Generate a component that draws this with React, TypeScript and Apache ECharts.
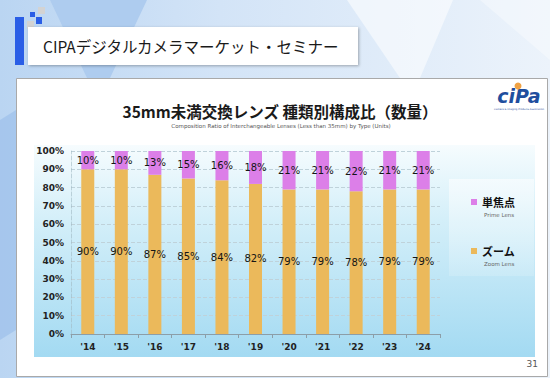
import React, { useEffect, useRef } from "react";
import * as echarts from "echarts";

const years = ["'14", "'15", "'16", "'17", "'18", "'19", "'20", "'21", "'22", "'23", "'24"];
const zoomShare = [90, 90, 87, 85, 84, 82, 79, 79, 78, 79, 79];
const primeShare = [10, 10, 13, 15, 16, 18, 21, 21, 22, 21, 21];
const seriesNames = ["ズーム", "単焦点"];
const seriesSubNames = ["Zoom Lens", "Prime Lens"];
const headerText = "CIPAデジタルカメラマーケット・セミナー";
const titleText = "35mm未満交換レンズ 種類別構成比（数量）";
const subTitleText = "Composition Ratio of Interchangeable Lenses (Less than 35mm) by Type (Units)";
const pageNumber = "31";

const ZOOM_COLOR = "#EBB95B";
const PRIME_COLOR = "#DC7FE8";
const LABEL_FONT = "'DejaVu Sans', Verdana, sans-serif";
const JP_FONT = "'Noto Sans CJK JP', 'Noto Sans', sans-serif";

export default function App() {
  const ref = useRef<HTMLDivElement>(null);
  useEffect(() => {
    if (!ref.current) return;
    const chart = echarts.init(ref.current, undefined, { renderer: "svg" });
    const barLabel = {
      show: true,
      position: "inside" as const,
      formatter: "{c}%",
      fontFamily: LABEL_FONT,
      fontSize: 10,
      color: "#151515",
    };
    chart.setOption({
      animation: false,
      backgroundColor: "#ffffff",
      graphic: [
        // page background
        {
          type: "rect", z: -20, silent: true,
          shape: { x: 0, y: 0, width: 550, height: 378 },
          style: {
            fill: new echarts.graphic.LinearGradient(0, 0, 1, 0, [
              { offset: 0, color: "#BAD5F2" },
              { offset: 0.4, color: "#D3E4F7" },
              { offset: 1, color: "#ECF3FB" },
            ]),
          },
        },
        {
          type: "polygon", z: -19, silent: true,
          shape: { points: [[50, 0], [147, 0], [110, 78], [87, 78]] },
          style: { fill: "#AECCEF" },
        },
        {
          type: "polygon", z: -19, silent: true,
          shape: { points: [[347, 0], [453, 0], [420, 78], [400, 78]] },
          style: { fill: "rgba(255,255,255,0.55)" },
        },
        {
          type: "polygon", z: -19, silent: true,
          shape: { points: [[480, 0], [550, 0], [550, 60]] },
          style: { fill: "rgba(255,255,255,0.35)" },
        },
        {
          type: "polygon", z: -19, silent: true,
          shape: { points: [[0, 120], [16, 110], [16, 330], [0, 340]] },
          style: { fill: "rgba(120,165,225,0.3)" },
        },
        // content box
        {
          type: "rect", z: -18, silent: true,
          shape: { x: 16.5, y: 78.5, width: 531, height: 298 },
          style: { fill: "#ffffff", stroke: "#A9A9A9", lineWidth: 1 },
        },
        // header decorations
        { type: "rect", z: -17, silent: true, shape: { x: 15, y: 17, width: 9, height: 48 }, style: { fill: "#2A5EE6" } },
        { type: "rect", z: -17, silent: true, shape: { x: 30, y: 12, width: 5, height: 5 }, style: { fill: "#2A5EE6" } },
        { type: "rect", z: -17, silent: true, shape: { x: 38, y: 7, width: 7, height: 7 }, style: { fill: "#D3D3D3" } },
        { type: "rect", z: -17, silent: true, shape: { x: 36, y: 17, width: 6, height: 7 }, style: { fill: "#2A5EE6" } },
        { type: "rect", z: -17, silent: true, shape: { x: 27, y: 21, width: 7, height: 8 }, style: { fill: "#D3D3D3" } },
        {
          type: "rect", z: -16, silent: true,
          shape: { x: 28, y: 27, width: 330, height: 38 },
          style: { fill: "#ffffff", shadowBlur: 3, shadowColor: "rgba(0,0,0,0.3)", shadowOffsetX: 1, shadowOffsetY: 1 },
        },
        {
          type: "text", z: -15, silent: true, x: 43, y: 46,
          style: { text: headerText, fontFamily: JP_FONT, fontSize: 15.5, fill: "#1a1a1a", verticalAlign: "middle", align: "left" },
        },
        // plot panel
        {
          type: "rect", z: -14, silent: true,
          shape: { x: 34, y: 145, width: 501, height: 212 },
          style: {
            fill: new echarts.graphic.LinearGradient(0, 0, 0, 1, [
              { offset: 0, color: "#F6FCFE" },
              { offset: 0.35, color: "#D4EFF9" },
              { offset: 1, color: "#A3DAF2" },
            ]),
          },
        },
        // legend panel
        {
          type: "rect", z: -13, silent: true,
          shape: { x: 449, y: 179, width: 85, height: 97 },
          style: {
            fill: new echarts.graphic.LinearGradient(0, 0, 0, 1, [
              { offset: 0, color: "rgba(255,255,255,0.55)" },
              { offset: 1, color: "rgba(255,255,255,0.15)" },
            ]),
          },
        },
        {
          type: "text", silent: true, x: 484, y: 215,
          style: { text: seriesSubNames[1], fontFamily: LABEL_FONT, fontSize: 5.5, fill: "#666", verticalAlign: "middle" },
        },
        {
          type: "text", silent: true, x: 484, y: 264,
          style: { text: seriesSubNames[0], fontFamily: LABEL_FONT, fontSize: 5.5, fill: "#666", verticalAlign: "middle" },
        },
        // titles
        {
          type: "text", silent: true, x: 280, y: 111,
          style: { text: titleText, fontFamily: JP_FONT, fontSize: 15.5, fontWeight: "bold", fill: "#1a1a1a", align: "center", verticalAlign: "middle" },
        },
        {
          type: "text", silent: true, x: 281, y: 126,
          style: { text: subTitleText, fontFamily: LABEL_FONT, fontSize: 5.5, fill: "#555", align: "center", verticalAlign: "middle" },
        },
        // logo
        {
          type: "text", silent: true, x: 519, y: 96,
          style: { text: "ciPa", fontFamily: "'DejaVu Sans', sans-serif", fontSize: 19, fontStyle: "italic", fontWeight: "bold", fill: "#1F4E9E", align: "center", verticalAlign: "middle" },
        },
        { type: "circle", silent: true, shape: { cx: 518, cy: 86, r: 3.5 }, style: { fill: "#F0A244" } },
        {
          type: "text", silent: true, x: 519, y: 109,
          style: { text: "Camera & Imaging Products Association", fontFamily: LABEL_FONT, fontSize: 2.5, fill: "#1F4E9E", align: "center", verticalAlign: "middle" },
        },
        // page number
        {
          type: "text", silent: true, x: 538, y: 364,
          style: { text: pageNumber, fontFamily: LABEL_FONT, fontSize: 9, fill: "#555", align: "right", verticalAlign: "middle" },
        },
      ],
      legend: {
        orient: "vertical",
        left: 471,
        top: 195,
        padding: 0,
        itemWidth: 6,
        itemHeight: 6,
        itemGap: 35,
        icon: "rect",
        selectedMode: false,
        data: [seriesNames[1], seriesNames[0]],
        textStyle: { fontFamily: JP_FONT, fontSize: 11, fontWeight: "bold", color: "#111", lineHeight: 14 },
      },
      grid: { left: 71, right: 110, top: 151, bottom: 44 },
      xAxis: {
        type: "category",
        data: years,
        axisLine: { lineStyle: { color: "#8C9EA8", width: 1 } },
        axisTick: { show: true, length: 4, lineStyle: { color: "#8C9EA8" } },
        axisLabel: { fontFamily: LABEL_FONT, fontSize: 9, fontWeight: "bold", color: "#222", margin: 8 },
      },
      yAxis: {
        type: "value",
        min: 0,
        max: 100,
        interval: 10,
        axisLine: { show: true, lineStyle: { color: "rgba(160,185,195,0.6)", type: "dashed" } },
        axisTick: { show: false },
        axisLabel: { formatter: "{value}%", fontFamily: LABEL_FONT, fontSize: 9, fontWeight: "bold", color: "#222", margin: 7 },
        splitLine: { lineStyle: { color: "#BFD2DA", type: "dashed", width: 1 } },
      },
      series: [
        {
          name: seriesNames[0],
          type: "bar",
          stack: "total",
          barWidth: 13,
          data: zoomShare,
          itemStyle: { color: ZOOM_COLOR },
          label: barLabel,
        },
        {
          name: seriesNames[1],
          type: "bar",
          stack: "total",
          barWidth: 13,
          data: primeShare,
          itemStyle: { color: PRIME_COLOR },
          label: barLabel,
        },
      ],
    });
    return () => chart.dispose();
  }, []);
  return <div ref={ref} style={{ position: "fixed", left: 0, top: 0, width: 550, height: 378 }} />;
}
